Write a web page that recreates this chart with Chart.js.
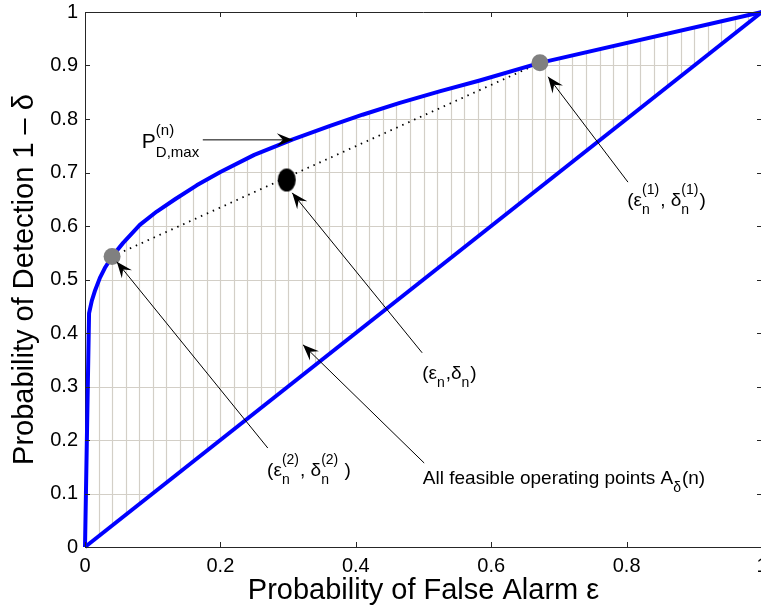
<!DOCTYPE html>
<html>
<head>
<meta charset="utf-8">
<script src="https://cdn.jsdelivr.net/npm/chart.js@4.4.0/dist/chart.umd.min.js"></script>
<style>
  html, body { margin: 0; padding: 0; overflow: hidden; background: #fff; }
  #wrap { width: 780px; height: 609px; }
</style>
</head>
<body>
<div id="wrap"><canvas id="roc" width="780" height="609"></canvas></div>
<script>
// upper ROC hull P_D,max
const upperEps = [0, 0.006, 0.01, 0.015, 0.022, 0.03, 0.04, 0.056, 0.081, 0.106, 0.133, 0.165, 0.2, 0.25, 0.307, 0.362, 0.41, 0.465, 0.525, 0.583, 0.672, 1];
const upperPd  = [0, 0.437, 0.46, 0.48, 0.503, 0.523, 0.543, 0.568, 0.602, 0.627, 0.65, 0.676, 0.701, 0.733, 0.762, 0.787, 0.808, 0.83, 0.852, 0.872, 0.905, 1];

// chance line
const diagEps = [0, 1];
const diagPd  = [0, 1];

// operating points
const grayEps = [0.04, 0.672];
const grayPd  = [0.543, 0.905];
const blackEps = [0.298];
const blackPd  = [0.686];

const xTicks = [0, 0.2, 0.4, 0.6, 0.8, 1];
const yTicks = [0, 0.1, 0.2, 0.3, 0.4, 0.5, 0.6, 0.7, 0.8, 0.9, 1];

// annotations (data units)
const arrows = [
  { from: [0.174, 0.761], to: [0.307, 0.761] },
  { from: [0.498, 0.363], to: [0.306, 0.662] },
  { from: [0.270, 0.185], to: [0.047, 0.533] },
  { from: [0.802, 0.682], to: [0.684, 0.879] },
  { from: [0.501, 0.157], to: [0.322, 0.378] },
];
const notes = [
  { at: [0.084, 0.746], main: 21, small: 15, sup: -13, sub: 9, parts: ['P', ['D,max', '(n)']] },
  { at: [0.498, 0.314], main: 19, small: 14, sup: -11, sub: 8, parts: ['(ε', ['n', ''], ',δ', ['n', ''], ')'] },
  { at: [0.269, 0.133], main: 19, small: 14, sup: -12, sub: 8, parts: ['(ε', ['n', '(2)'], ', δ', ['n', '(2)'], ' )'] },
  { at: [0.801, 0.637], main: 19, small: 14, sup: -12, sub: 8, parts: ['(ε', ['n', '(1)'], ', δ', ['n', '(1)'], ')'] },
  { at: [0.499, 0.118], main: 19, small: 14, sup: -12, sub: 8, parts: ['All feasible operating points A', ['δ', ''], '(n)'] },
];

const FONT = '"Liberation Sans", Arial, Helvetica, sans-serif';

function pts(xs, ys) { return xs.map((x, i) => ({ x: x, y: ys[i] })); }

// black marker is a little taller than wide
const blob = document.createElement('canvas');
blob.width = 20; blob.height = 25;
(function () {
  const c = blob.getContext('2d');
  c.fillStyle = '#000';
  c.beginPath();
  c.ellipse(10, 12.5, 9, 11.5, 0, 0, Math.PI * 2);
  c.fill();
})();

const hatchPlugin = {
  id: 'hatch',
  beforeDatasetsDraw(chart) {
    const { ctx, scales: { x, y } } = chart;
    ctx.save();
    ctx.beginPath();
    upperEps.forEach((e, i) => {
      const px = x.getPixelForValue(e), py = y.getPixelForValue(upperPd[i]);
      if (i === 0) ctx.moveTo(px, py); else ctx.lineTo(px, py);
    });
    for (let i = diagEps.length - 1; i >= 0; i--) {
      ctx.lineTo(x.getPixelForValue(diagEps[i]), y.getPixelForValue(diagPd[i]));
    }
    ctx.closePath();
    ctx.clip();
    ctx.strokeStyle = '#d3cfc7';
    ctx.lineWidth = 1.2;
    ctx.beginPath();
    for (let k = 1; k < 50; k++) {
      const px = Math.round(x.getPixelForValue(k * 0.02)) + 0.5;
      ctx.moveTo(px, y.top); ctx.lineTo(px, y.bottom);
    }
    for (let k = 1; k < 10; k++) {
      const py = Math.round(y.getPixelForValue(k * 0.1)) + 0.5;
      ctx.moveTo(x.left, py); ctx.lineTo(x.right, py);
    }
    ctx.stroke();
    ctx.restore();
  }
};

const framePlugin = {
  id: 'frame',
  afterDatasetsDraw(chart) {
    const { ctx, chartArea: a, scales: { x, y } } = chart;
    ctx.save();
    ctx.strokeStyle = '#262626';
    ctx.lineWidth = 1;
    ctx.beginPath();
    ctx.moveTo(a.left, a.top + 0.5); ctx.lineTo(a.right, a.top + 0.5);
    ctx.moveTo(a.right - 0.5, a.top); ctx.lineTo(a.right - 0.5, a.bottom);
    const len = 5;
    xTicks.forEach(v => {
      const px = Math.round(x.getPixelForValue(v)) + 0.5;
      ctx.moveTo(px, a.bottom); ctx.lineTo(px, a.bottom - len);
      ctx.moveTo(px, a.top); ctx.lineTo(px, a.top + len);
    });
    yTicks.forEach(v => {
      const py = Math.round(y.getPixelForValue(v)) + 0.5;
      ctx.moveTo(a.left, py); ctx.lineTo(a.left + len, py);
      ctx.moveTo(a.right, py); ctx.lineTo(a.right - len, py);
    });
    ctx.stroke();
    ctx.restore();
  }
};

function arrowHead(ctx, x0, y0, x1, y1) {
  const ang = Math.atan2(y1 - y0, x1 - x0);
  const L = 16, W = 6.5, N = 10;
  const c = Math.cos(ang), s = Math.sin(ang);
  ctx.beginPath();
  ctx.moveTo(x1, y1);
  ctx.lineTo(x1 - L * c + W * s, y1 - L * s - W * c);
  ctx.lineTo(x1 - N * c, y1 - N * s);
  ctx.lineTo(x1 - L * c - W * s, y1 - L * s + W * c);
  ctx.closePath();
  ctx.fill();
}

function drawRich(ctx, px, py, n) {
  let cx = px;
  ctx.textBaseline = 'alphabetic';
  ctx.textAlign = 'left';
  n.parts.forEach(p => {
    if (typeof p === 'string') {
      ctx.font = n.main + 'px ' + FONT;
      ctx.fillText(p, cx, py);
      cx += ctx.measureText(p).width;
    } else {
      ctx.font = n.small + 'px ' + FONT;
      const [sb, sp] = p;
      if (sb) ctx.fillText(sb, cx, py + n.sub);
      if (sp) ctx.fillText(sp, cx, py + n.sup);
      cx += Math.max(ctx.measureText(sb).width, ctx.measureText(sp).width) + 1;
    }
  });
}

const notePlugin = {
  id: 'notes',
  afterDraw(chart) {
    const { ctx, scales: { x, y } } = chart;
    ctx.save();
    ctx.strokeStyle = '#000';
    ctx.fillStyle = '#000';
    ctx.lineWidth = 1;
    arrows.forEach(a => {
      const x0 = x.getPixelForValue(a.from[0]), y0 = y.getPixelForValue(a.from[1]);
      const x1 = x.getPixelForValue(a.to[0]), y1 = y.getPixelForValue(a.to[1]);
      ctx.beginPath();
      ctx.moveTo(x0, y0); ctx.lineTo(x1, y1);
      ctx.stroke();
      arrowHead(ctx, x0, y0, x1, y1);
    });
    notes.forEach(n => {
      drawRich(ctx, x.getPixelForValue(n.at[0]), y.getPixelForValue(n.at[1]), n);
    });
    ctx.restore();
  }
};

Chart.defaults.font.family = FONT;
Chart.defaults.color = '#000';

const fmt = v => String(Math.round(v * 10) / 10);

new Chart(document.getElementById('roc'), {
  type: 'scatter',
  data: {
    datasets: [
      {
        data: pts(blackEps, blackPd),
        pointStyle: blob,
        order: 0,
      },
      {
        data: pts(grayEps, grayPd),
        pointRadius: 8.5,
        backgroundColor: '#808080',
        borderWidth: 0,
        order: 0,
      },
      {
        data: pts(upperEps, upperPd),
        showLine: true,
        borderColor: '#0000ff',
        borderWidth: 4,
        pointRadius: 0,
        borderJoinStyle: 'round',
        clip: false,
        order: 1,
      },
      {
        data: pts(diagEps, diagPd),
        showLine: true,
        borderColor: '#0000ff',
        borderWidth: 4,
        pointRadius: 0,
        clip: false,
        order: 1,
      },
      {
        data: pts(grayEps, grayPd),
        showLine: true,
        borderColor: '#000',
        borderWidth: 1.8,
        borderDash: [1.5, 5],
        pointRadius: 0,
        order: 2,
      },
    ]
  },
  options: {
    responsive: false,
    animation: false,
    devicePixelRatio: 1,
    layout: { padding: { top: 12, right: 18, left: 0, bottom: 0 } },
    plugins: { legend: { display: false }, tooltip: { enabled: false } },
    scales: {
      x: {
        type: 'linear', min: 0, max: 1,
        afterFit: s => { s.height = 62; s.paddingLeft = 0; s.paddingRight = 0; },
        afterBuildTicks: s => { s.ticks = xTicks.map(v => ({ value: v })); },
        ticks: { font: { size: 20 }, padding: 7, maxRotation: 0, callback: fmt },
        grid: { display: false, drawTicks: false },
        border: { display: true, color: '#262626', width: 1 },
        title: {
          display: true, text: 'Probability of False Alarm ε',
          font: { size: 29, lineHeight: 1 }, padding: { top: 0, bottom: 4 },
        },
      },
      y: {
        type: 'linear', min: 0, max: 1,
        afterFit: s => { s.width = 85; s.paddingTop = 0; s.paddingBottom = 0; },
        afterBuildTicks: s => { s.ticks = yTicks.map(v => ({ value: v })); },
        ticks: { font: { size: 20 }, padding: 7, callback: fmt },
        grid: { display: false, drawTicks: false },
        border: { display: true, color: '#262626', width: 1 },
        title: {
          display: true, text: 'Probability of Detection 1 – δ',
          font: { size: 29, lineHeight: 1 }, padding: { top: 10, bottom: 0 },
        },
      },
    },
  },
  plugins: [hatchPlugin, framePlugin, notePlugin],
});
</script>
</body>
</html>
